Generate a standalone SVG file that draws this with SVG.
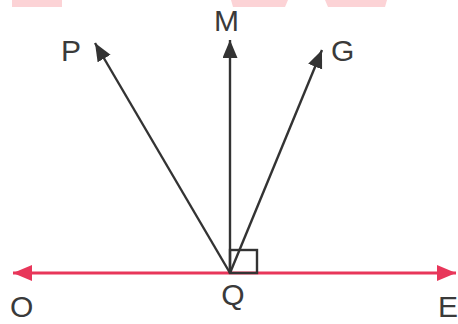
<svg xmlns="http://www.w3.org/2000/svg" width="458" height="324" viewBox="0 0 458 324">
<style>
.lbl{font-family:"Liberation Sans",Arial,sans-serif;font-size:30px;fill:#3a3a3a}
.ray{stroke:#333;stroke-width:2.4;fill:none}
.line{stroke:#e8365a;stroke-width:3;fill:none}
.wm{fill:#fcd3d6}
</style>
<defs>
<marker id="ah" markerUnits="userSpaceOnUse" markerWidth="20" markerHeight="16" refX="18" refY="7.5" orient="auto">
<path d="M0,0 L18,7.5 L0,15 z" fill="#333"/>
</marker>
<marker id="rh" markerUnits="userSpaceOnUse" markerWidth="20" markerHeight="18" refX="19" refY="8" orient="auto-start-reverse">
<path d="M0,0 L19,8 L0,16 z" fill="#e8365a"/>
</marker>
</defs>
<g id="watermark">
<polygon class="wm" points="12,0 62,0 62,7 12,7"/>
<polygon class="wm" points="231,0 288,0 285,7 233,7"/>
<polygon class="wm" points="325,0 387,0 385,7 328,7"/>
</g>
<g id="connectors">
<line class="line" x1="13" y1="273" x2="456" y2="273" marker-start="url(#rh)" marker-end="url(#rh)"/>
<line class="ray" x1="230" y1="273" x2="230" y2="40" marker-end="url(#ah)"/>
<line class="ray" x1="230" y1="273" x2="95" y2="43" marker-end="url(#ah)"/>
<line class="ray" x1="230" y1="273" x2="322" y2="50" marker-end="url(#ah)"/>
<rect class="ray" x="230" y="250" width="27" height="23"/>
</g>
<g id="node-P"><text class="lbl" x="61" y="61">P</text></g>
<g id="node-M"><text class="lbl" x="226.5" y="31" text-anchor="middle">M</text></g>
<g id="node-G"><text class="lbl" x="331" y="61">G</text></g>
<g id="node-Q"><text class="lbl" x="233" y="305" text-anchor="middle">Q</text></g>
<g id="node-O"><text class="lbl" x="10" y="317">O</text></g>
<g id="node-E"><text class="lbl" x="438" y="317">E</text></g>
</svg>
